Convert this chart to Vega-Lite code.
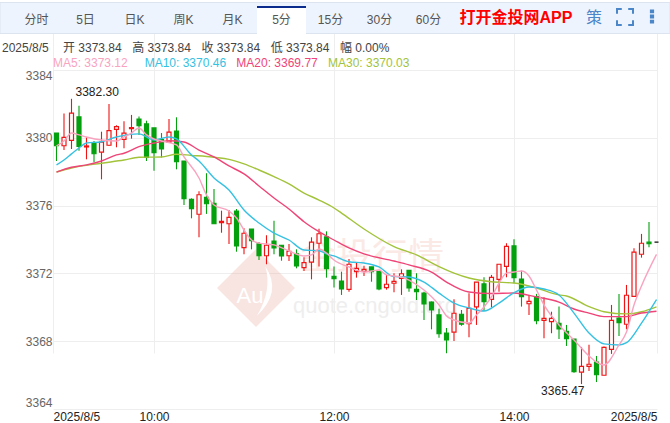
{"$schema":"https://vega.github.io/schema/vega-lite/v6.json","width":670,"height":423,"padding":0,"autosize":{"type":"none"},"background":"white","config":{"font":"Liberation Sans, Noto Sans CJK SC","view":{"stroke":null},"text":{"font":"Liberation Sans, Noto Sans CJK SC"}},
"datasets":{
"candles":[
{"t":"2025-08-05T08:55","d":"down","o":3380.28,"c":3379.53,"h":3380.28,"l":3378.63},
{"t":"2025-08-05T09:00","d":"up","o":3379.53,"c":3380.03,"h":3381.43,"l":3379.28},
{"t":"2025-08-05T09:05","d":"up","o":3379.85,"c":3381.45,"h":3382.30,"l":3379.34},
{"t":"2025-08-05T09:10","d":"down","o":3381.23,"c":3379.50,"h":3381.89,"l":3379.24},
{"t":"2025-08-05T09:15","d":"up","o":3379.46,"c":3379.52,"h":3380.03,"l":3378.73},
{"t":"2025-08-05T09:20","d":"down","o":3379.68,"c":3379.06,"h":3379.81,"l":3378.56},
{"t":"2025-08-05T09:25","d":"up","o":3379.15,"c":3379.74,"h":3380.36,"l":3377.55},
{"t":"2025-08-05T09:30","d":"up","o":3379.56,"c":3380.42,"h":3382.00,"l":3379.52},
{"t":"2025-08-05T09:35","d":"up","o":3380.50,"c":3380.66,"h":3380.74,"l":3379.44},
{"t":"2025-08-05T09:40","d":"up","o":3379.91,"c":3380.27,"h":3380.97,"l":3379.38},
{"t":"2025-08-05T09:45","d":"up","o":3380.54,"c":3380.60,"h":3381.35,"l":3379.95},
{"t":"2025-08-05T09:50","d":"down","o":3381.11,"c":3380.71,"h":3381.25,"l":3380.17},
{"t":"2025-08-05T09:55","d":"down","o":3380.82,"c":3378.85,"h":3381.01,"l":3378.63},
{"t":"2025-08-05T10:00","d":"down","o":3380.58,"c":3379.12,"h":3380.58,"l":3378.06},
{"t":"2025-08-05T10:05","d":"down","o":3379.90,"c":3379.34,"h":3380.28,"l":3378.84},
{"t":"2025-08-05T10:10","d":"up","o":3379.75,"c":3380.33,"h":3381.11,"l":3379.69},
{"t":"2025-08-05T10:15","d":"down","o":3380.40,"c":3378.59,"h":3381.21,"l":3378.14},
{"t":"2025-08-05T10:20","d":"down","o":3378.63,"c":3376.41,"h":3378.63,"l":3376.04},
{"t":"2025-08-05T10:25","d":"down","o":3376.37,"c":3375.82,"h":3376.43,"l":3375.25},
{"t":"2025-08-05T10:30","d":"up","o":3375.49,"c":3376.64,"h":3376.84,"l":3374.13},
{"t":"2025-08-05T10:35","d":"down","o":3376.49,"c":3376.11,"h":3377.91,"l":3375.51},
{"t":"2025-08-05T10:40","d":"down","o":3376.14,"c":3374.93,"h":3376.98,"l":3374.93},
{"t":"2025-08-05T10:45","d":"up","o":3374.99,"c":3375.07,"h":3375.70,"l":3374.40},
{"t":"2025-08-05T10:50","d":"up","o":3374.93,"c":3375.31,"h":3375.74,"l":3373.74},
{"t":"2025-08-05T10:55","d":"down","o":3375.68,"c":3373.62,"h":3375.80,"l":3373.28},
{"t":"2025-08-05T11:00","d":"up","o":3373.52,"c":3374.37,"h":3374.66,"l":3373.13},
{"t":"2025-08-05T11:05","d":"down","o":3374.62,"c":3373.93,"h":3374.62,"l":3373.42},
{"t":"2025-08-05T11:10","d":"down","o":3373.74,"c":3373.04,"h":3373.85,"l":3372.79},
{"t":"2025-08-05T11:15","d":"up","o":3373.04,"c":3373.66,"h":3374.25,"l":3372.54},
{"t":"2025-08-05T11:20","d":"down","o":3373.91,"c":3373.50,"h":3375.11,"l":3373.13},
{"t":"2025-08-05T11:25","d":"down","o":3373.66,"c":3373.03,"h":3373.66,"l":3372.75},
{"t":"2025-08-05T11:30","d":"up","o":3373.04,"c":3373.30,"h":3373.74,"l":3372.73},
{"t":"2025-08-05T11:35","d":"down","o":3373.15,"c":3372.44,"h":3373.42,"l":3372.30},
{"t":"2025-08-05T11:40","d":"up","o":3372.34,"c":3372.63,"h":3372.95,"l":3372.14},
{"t":"2025-08-05T11:45","d":"up","o":3372.67,"c":3373.84,"h":3374.13,"l":3371.65},
{"t":"2025-08-05T11:50","d":"up","o":3373.78,"c":3374.34,"h":3374.64,"l":3372.40},
{"t":"2025-08-05T11:55","d":"down","o":3374.15,"c":3372.28,"h":3374.48,"l":3371.75},
{"t":"2025-08-05T12:00","d":"down","o":3371.83,"c":3371.69,"h":3372.41,"l":3371.17},
{"t":"2025-08-05T12:05","d":"down","o":3371.55,"c":3371.08,"h":3372.10,"l":3370.73},
{"t":"2025-08-05T12:10","d":"up","o":3371.06,"c":3372.54,"h":3372.85,"l":3370.92},
{"t":"2025-08-05T12:15","d":"up","o":3372.10,"c":3372.30,"h":3372.63,"l":3371.75},
{"t":"2025-08-05T12:20","d":"up","o":3372.12,"c":3372.24,"h":3372.45,"l":3371.85},
{"t":"2025-08-05T12:25","d":"down","o":3372.38,"c":3372.10,"h":3372.38,"l":3371.51},
{"t":"2025-08-05T12:30","d":"down","o":3372.10,"c":3371.08,"h":3372.14,"l":3371.00},
{"t":"2025-08-05T12:35","d":"up","o":3371.16,"c":3371.36,"h":3371.91,"l":3371.04},
{"t":"2025-08-05T12:40","d":"up","o":3371.42,"c":3371.53,"h":3372.01,"l":3370.89},
{"t":"2025-08-05T12:45","d":"up","o":3371.71,"c":3371.98,"h":3372.24,"l":3370.73},
{"t":"2025-08-05T12:50","d":"down","o":3372.18,"c":3371.14,"h":3372.18,"l":3370.92},
{"t":"2025-08-05T12:55","d":"down","o":3371.06,"c":3370.92,"h":3372.01,"l":3370.43},
{"t":"2025-08-05T13:00","d":"down","o":3370.84,"c":3370.20,"h":3370.92,"l":3369.25},
{"t":"2025-08-05T13:05","d":"down","o":3370.31,"c":3369.84,"h":3370.34,"l":3368.70},
{"t":"2025-08-05T13:10","d":"down","o":3369.55,"c":3368.44,"h":3369.92,"l":3368.21},
{"t":"2025-08-05T13:15","d":"down","o":3368.48,"c":3368.07,"h":3368.78,"l":3367.29},
{"t":"2025-08-05T13:20","d":"up","o":3368.53,"c":3369.65,"h":3370.47,"l":3368.01},
{"t":"2025-08-05T13:25","d":"down","o":3369.59,"c":3369.00,"h":3369.84,"l":3368.91},
{"t":"2025-08-05T13:30","d":"up","o":3369.03,"c":3369.94,"h":3370.83,"l":3368.23},
{"t":"2025-08-05T13:35","d":"up","o":3370.02,"c":3371.48,"h":3371.48,"l":3368.96},
{"t":"2025-08-05T13:40","d":"down","o":3371.38,"c":3370.33,"h":3371.77,"l":3369.78},
{"t":"2025-08-05T13:45","d":"up","o":3370.47,"c":3371.77,"h":3371.91,"l":3370.00},
{"t":"2025-08-05T13:50","d":"up","o":3371.65,"c":3372.54,"h":3372.54,"l":3370.92},
{"t":"2025-08-05T13:55","d":"up","o":3372.42,"c":3373.60,"h":3373.78,"l":3371.77},
{"t":"2025-08-05T14:00","d":"down","o":3373.62,"c":3371.75,"h":3374.01,"l":3371.42},
{"t":"2025-08-05T14:05","d":"down","o":3371.67,"c":3370.63,"h":3372.16,"l":3370.04},
{"t":"2025-08-05T14:10","d":"up","o":3370.21,"c":3370.35,"h":3370.73,"l":3369.55},
{"t":"2025-08-05T14:15","d":"down","o":3370.63,"c":3369.21,"h":3370.79,"l":3369.00},
{"t":"2025-08-05T14:20","d":"up","o":3369.23,"c":3369.35,"h":3370.59,"l":3368.17},
{"t":"2025-08-05T14:25","d":"up","o":3369.15,"c":3369.35,"h":3369.74,"l":3368.47},
{"t":"2025-08-05T14:30","d":"down","o":3369.06,"c":3368.72,"h":3370.04,"l":3368.13},
{"t":"2025-08-05T14:35","d":"down","o":3368.58,"c":3368.15,"h":3368.96,"l":3367.72},
{"t":"2025-08-05T14:40","d":"down","o":3368.13,"c":3366.20,"h":3368.13,"l":3366.14},
{"t":"2025-08-05T14:45","d":"up","o":3366.17,"c":3366.52,"h":3367.66,"l":3365.47},
{"t":"2025-08-05T14:50","d":"up","o":3366.52,"c":3366.64,"h":3367.79,"l":3366.24},
{"t":"2025-08-05T14:55","d":"down","o":3366.77,"c":3366.02,"h":3367.13,"l":3365.59},
{"t":"2025-08-05T15:00","d":"up","o":3365.99,"c":3367.64,"h":3367.69,"l":3365.99},
{"t":"2025-08-05T15:05","d":"up","o":3367.52,"c":3369.23,"h":3370.14,"l":3367.25},
{"t":"2025-08-05T15:10","d":"down","o":3369.37,"c":3369.09,"h":3370.79,"l":3368.31},
{"t":"2025-08-05T15:15","d":"up","o":3369.00,"c":3370.71,"h":3371.32,"l":3368.70},
{"t":"2025-08-05T15:20","d":"up","o":3370.65,"c":3373.25,"h":3373.48,"l":3370.65},
{"t":"2025-08-05T15:25","d":"up","o":3373.13,"c":3373.78,"h":3374.33,"l":3372.93},
{"t":"2025-08-05T15:30","d":"down","o":3373.84,"c":3373.75,"h":3375.03,"l":3373.54},
{"t":"2025-08-05T15:35","d":"flat","o":3373.84,"c":3373.84,"h":3373.84,"l":3373.84}
],
"ma":[
{"t":"2025-08-05T08:55","s":"MA30","v":3377.98},{"t":"2025-08-05T09:05","s":"MA30","v":3378.22},{"t":"2025-08-05T09:25","s":"MA30","v":3378.50},{"t":"2025-08-05T09:40","s":"MA30","v":3378.69},{"t":"2025-08-05T09:50","s":"MA30","v":3378.85},{"t":"2025-08-05T10:05","s":"MA30","v":3378.87},{"t":"2025-08-05T10:15","s":"MA30","v":3379.03},{"t":"2025-08-05T10:25","s":"MA30","v":3378.96},{"t":"2025-08-05T10:35","s":"MA30","v":3378.90},{"t":"2025-08-05T10:40","s":"MA30","v":3378.85},{"t":"2025-08-05T10:50","s":"MA30","v":3378.73},{"t":"2025-08-05T11:00","s":"MA30","v":3378.46},{"t":"2025-08-05T11:10","s":"MA30","v":3378.10},{"t":"2025-08-05T11:20","s":"MA30","v":3377.71},{"t":"2025-08-05T11:30","s":"MA30","v":3377.28},{"t":"2025-08-05T11:40","s":"MA30","v":3376.74},{"t":"2025-08-05T11:50","s":"MA30","v":3376.33},{"t":"2025-08-05T12:00","s":"MA30","v":3375.86},{"t":"2025-08-05T12:05","s":"MA30","v":3375.56},{"t":"2025-08-05T12:20","s":"MA30","v":3374.62},{"t":"2025-08-05T12:40","s":"MA30","v":3373.58},{"t":"2025-08-05T12:55","s":"MA30","v":3373.09},{"t":"2025-08-05T13:10","s":"MA30","v":3372.40},{"t":"2025-08-05T13:20","s":"MA30","v":3372.02},{"t":"2025-08-05T13:30","s":"MA30","v":3371.73},{"t":"2025-08-05T13:45","s":"MA30","v":3371.51},{"t":"2025-08-05T14:00","s":"MA30","v":3371.43},{"t":"2025-08-05T14:15","s":"MA30","v":3371.14},{"t":"2025-08-05T14:30","s":"MA30","v":3370.73},{"t":"2025-08-05T14:35","s":"MA30","v":3370.67},{"t":"2025-08-05T14:50","s":"MA30","v":3370.04},{"t":"2025-08-05T15:00","s":"MA30","v":3369.74},{"t":"2025-08-05T15:15","s":"MA30","v":3369.61},{"t":"2025-08-05T15:25","s":"MA30","v":3369.74},{"t":"2025-08-05T15:35","s":"MA30","v":3370.03},
{"t":"2025-08-05T08:55","s":"MA20","v":3377.98},{"t":"2025-08-05T09:05","s":"MA20","v":3378.26},{"t":"2025-08-05T09:15","s":"MA20","v":3378.40},{"t":"2025-08-05T09:25","s":"MA20","v":3378.63},{"t":"2025-08-05T09:35","s":"MA20","v":3378.99},{"t":"2025-08-05T09:40","s":"MA20","v":3379.09},{"t":"2025-08-05T09:50","s":"MA20","v":3379.48},{"t":"2025-08-05T10:00","s":"MA20","v":3379.69},{"t":"2025-08-05T10:10","s":"MA20","v":3379.83},{"t":"2025-08-05T10:20","s":"MA20","v":3379.75},{"t":"2025-08-05T10:30","s":"MA20","v":3379.28},{"t":"2025-08-05T10:40","s":"MA20","v":3378.87},{"t":"2025-08-05T10:50","s":"MA20","v":3378.34},{"t":"2025-08-05T11:00","s":"MA20","v":3377.87},{"t":"2025-08-05T11:10","s":"MA20","v":3377.16},{"t":"2025-08-05T11:20","s":"MA20","v":3376.45},{"t":"2025-08-05T11:30","s":"MA20","v":3375.80},{"t":"2025-08-05T11:40","s":"MA20","v":3375.05},{"t":"2025-08-05T11:50","s":"MA20","v":3374.46},{"t":"2025-08-05T12:00","s":"MA20","v":3373.97},{"t":"2025-08-05T12:10","s":"MA20","v":3373.50},{"t":"2025-08-05T12:20","s":"MA20","v":3373.15},{"t":"2025-08-05T12:40","s":"MA20","v":3372.73},{"t":"2025-08-05T12:50","s":"MA20","v":3372.50},{"t":"2025-08-05T13:05","s":"MA20","v":3372.08},{"t":"2025-08-05T13:15","s":"MA20","v":3371.49},{"t":"2025-08-05T13:30","s":"MA20","v":3370.90},{"t":"2025-08-05T13:45","s":"MA20","v":3370.81},{"t":"2025-08-05T14:00","s":"MA20","v":3370.84},{"t":"2025-08-05T14:15","s":"MA20","v":3370.61},{"t":"2025-08-05T14:30","s":"MA20","v":3370.31},{"t":"2025-08-05T14:40","s":"MA20","v":3369.90},{"t":"2025-08-05T14:50","s":"MA20","v":3369.66},{"t":"2025-08-05T15:00","s":"MA20","v":3369.45},{"t":"2025-08-05T15:15","s":"MA20","v":3369.45},{"t":"2025-08-05T15:25","s":"MA20","v":3369.66},{"t":"2025-08-05T15:35","s":"MA20","v":3369.77},
{"t":"2025-08-05T08:55","s":"MA10","v":3378.40},{"t":"2025-08-05T09:00","s":"MA10","v":3378.69},{"t":"2025-08-05T09:05","s":"MA10","v":3379.05},{"t":"2025-08-05T09:10","s":"MA10","v":3379.40},{"t":"2025-08-05T09:15","s":"MA10","v":3379.69},{"t":"2025-08-05T09:25","s":"MA10","v":3379.77},{"t":"2025-08-05T09:35","s":"MA10","v":3380.05},{"t":"2025-08-05T09:50","s":"MA10","v":3380.23},{"t":"2025-08-05T10:00","s":"MA10","v":3379.87},{"t":"2025-08-05T10:10","s":"MA10","v":3380.05},{"t":"2025-08-05T10:15","s":"MA10","v":3379.93},{"t":"2025-08-05T10:25","s":"MA10","v":3378.99},{"t":"2025-08-05T10:30","s":"MA10","v":3378.63},{"t":"2025-08-05T10:40","s":"MA10","v":3377.63},{"t":"2025-08-05T10:50","s":"MA10","v":3376.92},{"t":"2025-08-05T11:00","s":"MA10","v":3375.74},{"t":"2025-08-05T11:10","s":"MA10","v":3374.97},{"t":"2025-08-05T11:20","s":"MA10","v":3374.38},{"t":"2025-08-05T11:30","s":"MA10","v":3373.97},{"t":"2025-08-05T11:40","s":"MA10","v":3373.38},{"t":"2025-08-05T11:50","s":"MA10","v":3373.34},{"t":"2025-08-05T11:55","s":"MA10","v":3373.15},{"t":"2025-08-05T12:00","s":"MA10","v":3373.03},{"t":"2025-08-05T12:10","s":"MA10","v":3372.69},{"t":"2025-08-05T12:20","s":"MA10","v":3372.61},{"t":"2025-08-05T12:30","s":"MA10","v":3372.38},{"t":"2025-08-05T12:40","s":"MA10","v":3371.81},{"t":"2025-08-05T12:50","s":"MA10","v":3371.79},{"t":"2025-08-05T13:00","s":"MA10","v":3371.49},{"t":"2025-08-05T13:10","s":"MA10","v":3370.84},{"t":"2025-08-05T13:20","s":"MA10","v":3370.25},{"t":"2025-08-05T13:30","s":"MA10","v":3369.96},{"t":"2025-08-05T13:40","s":"MA10","v":3369.78},{"t":"2025-08-05T13:50","s":"MA10","v":3370.25},{"t":"2025-08-05T14:00","s":"MA10","v":3370.86},{"t":"2025-08-05T14:10","s":"MA10","v":3371.20},{"t":"2025-08-05T14:20","s":"MA10","v":3371.08},{"t":"2025-08-05T14:30","s":"MA10","v":3370.73},{"t":"2025-08-05T14:40","s":"MA10","v":3369.66},{"t":"2025-08-05T14:50","s":"MA10","v":3368.48},{"t":"2025-08-05T15:00","s":"MA10","v":3367.84},{"t":"2025-08-05T15:10","s":"MA10","v":3367.78},{"t":"2025-08-05T15:15","s":"MA10","v":3367.91},{"t":"2025-08-05T15:25","s":"MA10","v":3369.07},{"t":"2025-08-05T15:35","s":"MA10","v":3370.46},
{"t":"2025-08-05T08:55","s":"MA5","v":3379.52},{"t":"2025-08-05T09:00","s":"MA5","v":3379.81},{"t":"2025-08-05T09:05","s":"MA5","v":3380.28},{"t":"2025-08-05T09:10","s":"MA5","v":3380.17},{"t":"2025-08-05T09:15","s":"MA5","v":3380.05},{"t":"2025-08-05T09:25","s":"MA5","v":3379.87},{"t":"2025-08-05T09:35","s":"MA5","v":3379.81},{"t":"2025-08-05T09:40","s":"MA5","v":3380.05},{"t":"2025-08-05T09:45","s":"MA5","v":3380.28},{"t":"2025-08-05T09:50","s":"MA5","v":3380.58},{"t":"2025-08-05T09:55","s":"MA5","v":3380.17},{"t":"2025-08-05T10:00","s":"MA5","v":3379.93},{"t":"2025-08-05T10:05","s":"MA5","v":3379.81},{"t":"2025-08-05T10:15","s":"MA5","v":3379.58},{"t":"2025-08-05T10:20","s":"MA5","v":3378.87},{"t":"2025-08-05T10:30","s":"MA5","v":3377.63},{"t":"2025-08-05T10:35","s":"MA5","v":3376.63},{"t":"2025-08-05T10:40","s":"MA5","v":3376.04},{"t":"2025-08-05T10:50","s":"MA5","v":3375.68},{"t":"2025-08-05T10:55","s":"MA5","v":3375.27},{"t":"2025-08-05T11:00","s":"MA5","v":3374.56},{"t":"2025-08-05T11:05","s":"MA5","v":3373.97},{"t":"2025-08-05T11:10","s":"MA5","v":3373.79},{"t":"2025-08-05T11:20","s":"MA5","v":3373.68},{"t":"2025-08-05T11:30","s":"MA5","v":3373.32},{"t":"2025-08-05T11:40","s":"MA5","v":3373.03},{"t":"2025-08-05T11:45","s":"MA5","v":3373.09},{"t":"2025-08-05T11:50","s":"MA5","v":3373.44},{"t":"2025-08-05T11:55","s":"MA5","v":3373.20},{"t":"2025-08-05T12:00","s":"MA5","v":3372.79},{"t":"2025-08-05T12:10","s":"MA5","v":3372.38},{"t":"2025-08-05T12:20","s":"MA5","v":3372.08},{"t":"2025-08-05T12:25","s":"MA5","v":3372.14},{"t":"2025-08-05T12:30","s":"MA5","v":3372.20},{"t":"2025-08-05T12:35","s":"MA5","v":3371.91},{"t":"2025-08-05T12:45","s":"MA5","v":3371.79},{"t":"2025-08-05T12:50","s":"MA5","v":3371.61},{"t":"2025-08-05T13:00","s":"MA5","v":3371.02},{"t":"2025-08-05T13:10","s":"MA5","v":3370.14},{"t":"2025-08-05T13:15","s":"MA5","v":3369.49},{"t":"2025-08-05T13:20","s":"MA5","v":3369.25},{"t":"2025-08-05T13:30","s":"MA5","v":3369.07},{"t":"2025-08-05T13:35","s":"MA5","v":3369.55},{"t":"2025-08-05T13:40","s":"MA5","v":3370.02},{"t":"2025-08-05T13:45","s":"MA5","v":3370.61},{"t":"2025-08-05T13:50","s":"MA5","v":3371.43},{"t":"2025-08-05T13:55","s":"MA5","v":3372.02},{"t":"2025-08-05T14:00","s":"MA5","v":3372.08},{"t":"2025-08-05T14:05","s":"MA5","v":3372.14},{"t":"2025-08-05T14:10","s":"MA5","v":3371.85},{"t":"2025-08-05T14:15","s":"MA5","v":3371.02},{"t":"2025-08-05T14:20","s":"MA5","v":3370.14},{"t":"2025-08-05T14:30","s":"MA5","v":3368.96},{"t":"2025-08-05T14:40","s":"MA5","v":3368.07},{"t":"2025-08-05T14:50","s":"MA5","v":3367.13},{"t":"2025-08-05T14:55","s":"MA5","v":3366.77},{"t":"2025-08-05T15:00","s":"MA5","v":3366.60},{"t":"2025-08-05T15:10","s":"MA5","v":3367.78},{"t":"2025-08-05T15:15","s":"MA5","v":3368.54},{"t":"2025-08-05T15:20","s":"MA5","v":3370.14},{"t":"2025-08-05T15:25","s":"MA5","v":3371.26},{"t":"2025-08-05T15:35","s":"MA5","v":3373.12}
]},
"resolve":{"scale":{"x":"independent","y":"independent","stroke":"independent","fill":"independent"}},
"layer":[
{"data":{"values":[{"k":"bar"}]},"mark":{"type":"rect","fill":"#eef4fd","stroke":"#dce4f0","strokeWidth":1},"encoding":{"y":{"field":"k","type":"nominal","axis":null,"scale":{"type":"band","domain":["bar"],"range":[2.5,33.5],"paddingInner":0,"paddingOuter":0}}}},
{"data":{"values":[{"tab":"5分","k":"a"}]},"mark":{"type":"rect","fill":"white","stroke":null},"encoding":{"x":{"field":"tab","type":"nominal","axis":null,"scale":{"type":"band","domain":["分时","5日","日K","周K","月K","5分","15分","30分","60分"],"range":[12,453],"paddingInner":0,"paddingOuter":0}},"y":{"field":"k","type":"nominal","axis":null,"scale":{"type":"band","domain":["a"],"range":[6,34],"paddingInner":0,"paddingOuter":0}}}},
{"data":{"values":[{"tab":"5分","k":"a"}]},"mark":{"type":"rect","fill":"#0b2c8c","stroke":null},"encoding":{"x":{"field":"tab","type":"nominal","axis":null,"scale":{"type":"band","domain":["分时","5日","日K","周K","月K","5分","15分","30分","60分"],"range":[12,453],"paddingInner":0,"paddingOuter":0}},"y":{"field":"k","type":"nominal","axis":null,"scale":{"type":"band","domain":["a"],"range":[6,8],"paddingInner":0,"paddingOuter":0}}}},
{"data":{"values":[{"tab":"分时","k":"a"},{"tab":"5日","k":"a"},{"tab":"日K","k":"a"},{"tab":"周K","k":"a"},{"tab":"月K","k":"a"},{"tab":"5分","k":"a"},{"tab":"15分","k":"a"},{"tab":"30分","k":"a"},{"tab":"60分","k":"a"}]},"mark":{"type":"text","fontSize":12,"color":"#555","baseline":"middle"},"encoding":{"text":{"field":"tab"},"x":{"field":"tab","type":"nominal","axis":null,"scale":{"type":"point","domain":["分时","5日","日K","周K","月K","5分","15分","30分","60分"],"range":[36.5,428.5],"padding":0}},"y":{"field":"k","type":"nominal","axis":null,"scale":{"type":"point","domain":["a"],"range":[20,20]}}}},
{"data":{"values":[{"k":"打开金投网APP","r":"a"}]},"mark":{"type":"text","fontSize":16,"fontWeight":"bold","color":"#ff0000","baseline":"middle"},"encoding":{"text":{"field":"k"},"x":{"field":"k","type":"nominal","axis":null,"scale":{"type":"point","domain":["打开金投网APP"],"range":[516,516]}},"y":{"field":"r","type":"nominal","axis":null,"scale":{"type":"point","domain":["a"],"range":[18,18]}}}},
{"data":{"values":[{"k":"策","r":"a"}]},"mark":{"type":"text","fontSize":16,"color":"#4a86c8","baseline":"middle"},"encoding":{"text":{"field":"k"},"x":{"field":"k","type":"nominal","axis":null,"scale":{"type":"point","domain":["策"],"range":[594,594]}},"y":{"field":"r","type":"nominal","axis":null,"scale":{"type":"point","domain":["a"],"range":[18,18]}}}},
{"data":{"values":[{"k":"全屏","r":"a"}]},"mark":{"type":"point","shape":"M-1,-0.4 V-1 H-0.4 M0.4,-1 H1 V-0.4 M1,0.4 V1 H0.4 M-0.4,1 H-1 V0.4","size":256,"filled":false,"stroke":"#4a86c8","strokeWidth":2,"opacity":1},"encoding":{"x":{"field":"k","type":"nominal","axis":null,"scale":{"type":"point","domain":["全屏"],"range":[625,625]}},"y":{"field":"r","type":"nominal","axis":null,"scale":{"type":"point","domain":["a"],"range":[17,17]}}}},
{"data":{"values":[{"k":"更多","r":"a"}]},"mark":{"type":"point","shape":"M-0.3,-1 H0.3 V-0.45 H-0.3 Z M-0.3,-0.27 H0.3 V0.27 H-0.3 Z M-0.3,0.45 H0.3 V1 H-0.3 Z","size":196,"filled":true,"fill":"#4a86c8","stroke":null,"opacity":1},"encoding":{"x":{"field":"k","type":"nominal","axis":null,"scale":{"type":"point","domain":["更多"],"range":[652,652]}},"y":{"field":"r","type":"nominal","axis":null,"scale":{"type":"point","domain":["a"],"range":[16.5,16.5]}}}},
{"data":{"values":[{"k":"2025/8/5","r":"a"}]},"mark":{"type":"text","fontSize":12,"color":"#444","align":"left","baseline":"middle"},"encoding":{"text":{"field":"k"},"x":{"field":"k","type":"nominal","axis":null,"scale":{"type":"point","domain":["2025/8/5"],"range":[2,2]}},"y":{"field":"r","type":"nominal","axis":null,"scale":{"type":"point","domain":["a"],"range":[48,48]}}}},
{"data":{"values":[{"k":"开 3373.84","r":"a"},{"k":"高 3373.84","r":"a"},{"k":"收 3373.84","r":"a"},{"k":"低 3373.84","r":"a"},{"k":"幅 0.00%","r":"a"}]},"mark":{"type":"text","fontSize":12,"color":"#444","align":"left","baseline":"middle"},"encoding":{"text":{"field":"k"},"x":{"field":"k","type":"nominal","axis":null,"scale":{"type":"point","domain":["开 3373.84","高 3373.84","收 3373.84","低 3373.84","幅 0.00%"],"range":[63,340],"padding":0}},"y":{"field":"r","type":"nominal","axis":null,"scale":{"type":"point","domain":["a"],"range":[48,48]}}}},
{"data":{"values":[{"s":"MA5","k":"MA5: 3373.12","r":"a"},{"s":"MA10","k":"MA10: 3370.46","r":"a"},{"s":"MA20","k":"MA20: 3369.77","r":"a"},{"s":"MA30","k":"MA30: 3370.03","r":"a"}]},"mark":{"type":"text","fontSize":12,"align":"left","baseline":"middle"},"encoding":{"text":{"field":"k"},"x":{"field":"s","type":"nominal","axis":null,"scale":{"type":"point","domain":["MA5","MA10","MA20","MA30"],"range":[53,328],"padding":0}},"y":{"field":"r","type":"nominal","axis":null,"scale":{"type":"point","domain":["a"],"range":[63,63]}},"fill":{"field":"s","type":"nominal","legend":null,"scale":{"domain":["MA5","MA10","MA20","MA30"],"range":["#f9a3bf","#35c1e2","#ef4477","#a2c33a"]}}}},
{"data":{"values":[{"k":"logo","r":"a"}]},"mark":{"type":"point","shape":"M0,-1 L1,0 L0,1 L-1,0 Z","size":6084,"filled":true,"fill":"#e9a89a","fillOpacity":0.3,"stroke":null,"opacity":1},"encoding":{"x":{"field":"k","type":"nominal","axis":null,"scale":{"type":"point","domain":["logo"],"range":[256,256]}},"y":{"field":"r","type":"nominal","axis":null,"scale":{"type":"point","domain":["a"],"range":[288,288]}}}},
{"data":{"values":[{"k":"logo","r":"a"}]},"mark":{"type":"point","shape":"M0.24,-0.55 Q0.68,0.1 0.02,0.72 Q0.42,0.05 0.24,-0.55 Z","size":6084,"filled":true,"fill":"white","stroke":null,"opacity":1},"encoding":{"x":{"field":"k","type":"nominal","axis":null,"scale":{"type":"point","domain":["logo"],"range":[256,256]}},"y":{"field":"r","type":"nominal","axis":null,"scale":{"type":"point","domain":["a"],"range":[288,288]}}}},
{"data":{"values":[{"k":"Au","r":"a"}]},"mark":{"type":"text","fontSize":22,"color":"white","baseline":"middle"},"encoding":{"text":{"field":"k"},"x":{"field":"k","type":"nominal","axis":null,"scale":{"type":"point","domain":["Au"],"range":[250,250]}},"y":{"field":"r","type":"nominal","axis":null,"scale":{"type":"point","domain":["a"],"range":[296,296]}}}},
{"data":{"values":[{"k":"金投行情","r":"a"}]},"mark":{"type":"text","fontSize":36,"color":"#fbe9e5","align":"left","baseline":"middle"},"encoding":{"text":{"field":"k"},"x":{"field":"k","type":"nominal","axis":null,"scale":{"type":"point","domain":["金投行情"],"range":[300,300]}},"y":{"field":"r","type":"nominal","axis":null,"scale":{"type":"point","domain":["a"],"range":[258,258]}}}},
{"data":{"values":[{"k":"quote.cngold.org","r":"a"}]},"mark":{"type":"text","fontSize":22,"color":"#eeeeee","align":"left","baseline":"middle"},"encoding":{"text":{"field":"k"},"x":{"field":"k","type":"nominal","axis":null,"scale":{"type":"point","domain":["quote.cngold.org"],"range":[293,293]}},"y":{"field":"r","type":"nominal","axis":null,"scale":{"type":"point","domain":["a"],"range":[306,306]}}}},
{"encoding":{"x":{"field":"t","type":"temporal","title":null,"scale":{"domain":[{"year":2025,"month":8,"date":5,"hours":8,"minutes":52,"seconds":40},{"year":2025,"month":8,"date":5,"hours":15,"minutes":35,"seconds":20}],"range":[53,657],"nice":false,"padding":0},"axis":{"orient":"bottom","offset":-14,"values":[{"year":2025,"month":8,"date":5,"hours":8,"minutes":52,"seconds":40},{"year":2025,"month":8,"date":5,"hours":10},{"year":2025,"month":8,"date":5,"hours":12},{"year":2025,"month":8,"date":5,"hours":14},{"year":2025,"month":8,"date":5,"hours":15,"minutes":35,"seconds":20}],"labelExpr":"minutes(datum.value)>0?'2025/8/5':timeFormat(datum.value,'%H:%M')","labelAlign":{"condition":[{"test":"hours(datum.value)<9","value":"left"},{"test":"hours(datum.value)>=15","value":"right"}],"value":"center"},"labelBaseline":"top","labelFontSize":12,"labelColor":"#222","labelPadding":2,"labelFlush":false,"labelOverlap":false,"labelBound":false,"domain":false,"ticks":false,"tickSize":0,"grid":true,"gridColor":"#eeeeee","gridWidth":1}}},
"layer":[
{"data":{"name":"candles"},"mark":{"type":"rule","strokeWidth":1.1},"encoding":{"y":{"field":"l","type":"quantitative","title":null,"scale":{"domain":[3364,3384],"range":[409,70],"nice":false,"zero":false},"axis":{"orient":"left","offset":-53,"values":[3364,3368,3372,3376,3380,3384],"format":"d","labelBaseline":{"condition":[{"test":"datum.value==3384","value":"top"},{"test":"datum.value==3364","value":"bottom"}],"value":"middle"},"labelFontSize":12,"labelColor":"#666","labelPadding":1,"domain":false,"ticks":false,"tickSize":0,"grid":true,"gridColor":"#eeeeee","gridWidth":1}},"y2":{"field":"h"},"stroke":{"field":"d","type":"nominal","legend":null,"scale":{"domain":["up","down","flat","MA5","MA10","MA20","MA30"],"range":["#f01414","#04a00e","#111111","#f9a3bf","#35c1e2","#ef4477","#a2c33a"]}}}},
{"data":{"name":"candles"},"mark":{"type":"bar","size":4,"strokeWidth":1.2},"encoding":{"y":{"field":"o","type":"quantitative","scale":{"domain":[3364,3384],"range":[409,70],"nice":false,"zero":false}},"y2":{"field":"c"},"fill":{"field":"d","type":"nominal","legend":null,"scale":{"domain":["up","down","flat"],"range":["#ffffff","#04a00e","#111111"]}},"stroke":{"field":"d","type":"nominal","legend":null,"scale":{"domain":["up","down","flat","MA5","MA10","MA20","MA30"],"range":["#f01414","#04a00e","#111111","#f9a3bf","#35c1e2","#ef4477","#a2c33a"]}}}},
{"data":{"name":"ma"},"mark":{"type":"line","strokeWidth":1.4,"interpolate":"monotone"},"encoding":{"y":{"field":"v","type":"quantitative","scale":{"domain":[3364,3384],"range":[409,70],"nice":false,"zero":false}},"stroke":{"field":"s","type":"nominal","legend":null,"scale":{"domain":["up","down","flat","MA5","MA10","MA20","MA30"],"range":["#f01414","#04a00e","#111111","#f9a3bf","#35c1e2","#ef4477","#a2c33a"]}},"order":{"field":"t"}}},
{"data":{"values":[{"t":"2025-08-05T09:05","v":3382.30,"k":"3382.30"}]},"mark":{"type":"text","fontSize":12,"color":"#222","align":"left","baseline":"middle","dx":4,"dy":-7},"encoding":{"y":{"field":"v","type":"quantitative","scale":{"domain":[3364,3384],"range":[409,70],"nice":false,"zero":false}},"text":{"field":"k"}}},
{"data":{"values":[{"t":"2025-08-05T14:45","v":3365.47,"k":"3365.47"}]},"mark":{"type":"text","fontSize":12,"color":"#222","align":"right","baseline":"middle","dx":3,"dy":7},"encoding":{"y":{"field":"v","type":"quantitative","scale":{"domain":[3364,3384],"range":[409,70],"nice":false,"zero":false}},"text":{"field":"k"}}}
]}
]}
